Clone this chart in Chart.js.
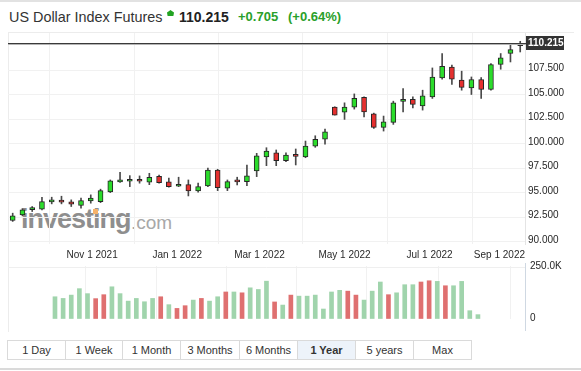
<!DOCTYPE html>
<html><head><meta charset="utf-8">
<script src="https://cdn.jsdelivr.net/npm/chart.js@4.4.0/dist/chart.umd.min.js"></script>
<style>
html,body{margin:0;padding:0;background:#fff;width:581px;height:371px;overflow:hidden;font-family:"Liberation Sans",Arial,sans-serif;color:#333;}
.abs{position:absolute;white-space:nowrap;}
#topline{left:0;top:0;width:581px;height:2px;background:#e2e2e2;}
#bottomline{left:0;top:368px;width:581px;height:2px;background:#dadada;}
#frame{left:8px;top:32px;width:565px;height:299px;border-left:1px solid #ececec;border-top:1px solid #ececec;}
#wm1{left:21px;top:206px;font-size:27px;font-weight:bold;letter-spacing:-1px;color:#8e8e8e;line-height:27px;}
#wm2{left:131px;top:213px;font-size:19px;color:#a8a8a8;line-height:19px;}
#wmdot{left:93px;top:209px;width:5px;height:5px;background:#f5b26a;}
#volaxis{left:525px;top:263px;width:1px;height:68px;background:#cfd8e2;}
.btns{left:7px;top:340px;display:flex;}
.btn{height:18px;line-height:18px;border:1px solid #dadada;border-left:none;text-align:center;font-size:11px;color:#333;background:#fff;}
.btn:first-child{border-left:1px solid #dadada;}
.btn.on{background:#edf3fa;font-weight:bold;}
</style></head>
<body>
<div id="topline" class="abs"></div>
<div class="abs" style="left:9px;top:9px;font-size:14.4px;line-height:16px;color:#333;">US Dollar Index Futures</div>
<svg class="abs" style="left:166px;top:9px" width="9" height="9"><polygon points="4.5,1 8,3.6 7.4,7 1.6,7 1,3.6" fill="#22a322"/></svg>
<div class="abs" style="left:179px;top:9px;font-size:14px;line-height:16px;font-weight:bold;color:#222;">110.215</div>
<div class="abs" style="left:238px;top:9px;font-size:13px;line-height:16px;font-weight:bold;color:#2a9f2a;">+0.705</div>
<div class="abs" style="left:288px;top:9px;font-size:13px;line-height:16px;font-weight:bold;color:#2a9f2a;">(+0.64%)</div>
<div id="frame" class="abs"></div>
<div id="wm1" class="abs">investing</div>
<div id="wm2" class="abs">.com</div>
<div id="wmdot" class="abs"></div>
<div class="abs" style="left:8px;top:33px;"><canvas id="price" width="573" height="233"></canvas></div>
<div class="abs" style="left:8px;top:256px;"><canvas id="vol" width="573" height="75"></canvas></div>
<div id="volaxis" class="abs"></div>
<div class="abs btns">
 <div class="btn" style="width:57px">1 Day</div>
 <div class="btn" style="width:56px">1 Week</div>
 <div class="btn" style="width:57px">1 Month</div>
 <div class="btn" style="width:58px">3 Months</div>
 <div class="btn" style="width:57px">6 Months</div>
 <div class="btn on" style="width:57px">1 Year</div>
 <div class="btn" style="width:57px">5 years</div>
 <div class="btn" style="width:57px">Max</div>
</div>
<div id="bottomline" class="abs"></div>
<script>
const weeks = ["2021-09-05","2021-09-12","2021-09-19","2021-09-26","2021-10-03","2021-10-10","2021-10-17","2021-10-24","2021-10-31",
"2021-11-07","2021-11-14","2021-11-21","2021-11-28","2021-12-05","2021-12-12","2021-12-19","2021-12-26",
"2022-01-02","2022-01-09","2022-01-16","2022-01-23","2022-01-30","2022-02-06","2022-02-13","2022-02-20","2022-02-27",
"2022-03-06","2022-03-13","2022-03-20","2022-03-27","2022-04-03","2022-04-10","2022-04-17","2022-04-24",
"2022-05-01","2022-05-08","2022-05-15","2022-05-22","2022-05-29","2022-06-05","2022-06-12","2022-06-19","2022-06-26",
"2022-07-03","2022-07-10","2022-07-17","2022-07-24","2022-07-31","2022-08-07","2022-08-14","2022-08-21","2022-08-28","2022-09-04"];
const open  = [92.14,92.72,93.26,93.30,94.04,94.22,94.04,93.67,94.15,94.07,95.06,96.08,96.15,96.20,96.05,96.66,96.08,95.64,95.80,95.16,95.67,97.30,95.44,96.23,96.11,97.20,98.62,99.06,98.25,98.83,98.62,99.74,100.45,103.71,103.20,103.71,104.70,103.03,101.65,102.15,104.29,104.50,103.84,104.76,106.69,107.81,106.46,105.68,106.53,105.51,108.06,109.18,109.99];
const high  = [92.89,93.36,93.57,94.52,94.52,94.62,94.25,94.42,94.76,95.34,96.28,97.05,96.72,96.69,96.96,96.79,96.46,96.56,96.28,95.95,97.50,97.37,96.28,96.56,97.81,99.00,99.57,99.34,99.06,99.44,100.25,100.79,101.47,103.75,104.15,105.06,104.76,103.10,102.80,104.32,105.61,104.76,105.44,107.71,109.18,107.99,107.38,106.79,106.73,108.16,109.18,110.02,110.43];
const low   = [92.05,92.62,93.06,93.23,93.84,93.84,93.57,93.40,93.91,93.97,94.99,96.03,95.60,95.95,95.80,95.95,95.54,95.60,94.65,95.03,95.60,95.19,95.19,95.77,95.70,96.62,97.74,97.74,98.15,97.81,98.55,99.61,99.92,102.90,102.46,103.51,102.72,101.54,101.27,101.95,103.23,103.64,103.41,104.60,106.56,106.02,105.44,105.00,104.60,105.44,107.58,108.32,109.34];
const close = [92.62,93.23,93.36,94.07,94.18,94.01,93.81,94.18,94.42,95.19,96.18,96.20,96.25,96.15,96.56,96.01,95.60,95.69,95.16,95.60,97.30,95.50,96.11,96.08,96.69,98.73,99.23,98.25,98.83,98.69,99.74,100.42,101.20,102.90,103.71,104.60,103.23,101.65,102.22,104.15,104.50,103.99,104.86,106.79,107.88,106.56,105.72,106.53,105.51,108.06,108.73,109.58,110.215];
const volume = [107000,99000,115000,146000,122000,98000,117000,155000,122000,86000,99000,83000,99000,107000,69000,51000,64000,91000,99000,86000,107000,130000,130000,126000,150000,142000,182000,82000,67000,115000,110000,110000,115000,48000,130000,138000,134000,115000,91000,134000,178000,117000,126000,165000,165000,178000,184000,181000,160000,160000,181000,40000,21000];
const monthTickDates = ["2021-11-01","2022-01-01","2022-03-01","2022-05-01","2022-07-01","2022-09-01"];
const monthTickLabels = ["Nov 1 2021","Jan 1 2022","Mar 1 2022","May 1 2022","Jul 1 2022","Sep 1 2022"];
const priceTicks = [90,92.5,95,97.5,100,102.5,105,107.5];
const volumeTicks = [0,250000];

const FONT = '"Liberation Sans", Arial, sans-serif';
const t0 = Date.parse(weeks[0]);
const monthPos = monthTickDates.map(d => (Date.parse(d) - t0) / (7*864e5));
const idx = weeks.map((_, i) => i);
const up = close.map((c, i) => c >= open[i]);
const volUp = close.map((c, i) => i === 0 ? c >= open[i] : c >= close[i-1]);
const XMIN = -0.48, XMAX = 52.49;
const noPad = s => { s.paddingTop = 0; s.paddingBottom = 0; s.paddingLeft = 0; s.paddingRight = 0; };

const xLabels = {
  id: 'xLabels',
  afterDraw(chart) {
    const {ctx, chartArea: a, scales: {x}} = chart;
    ctx.save();
    ctx.font = '10px ' + FONT; ctx.fillStyle = '#2a2a2a'; ctx.textBaseline = 'middle'; ctx.textAlign = 'left';
    monthPos.forEach((p, i) => {
      const t = monthTickLabels[i]; const w = ctx.measureText(t).width;
      let l = x.getPixelForValue(p) - w / 2;
      if (l + w > a.right) l = a.right - w;
      ctx.fillText(t, l, a.bottom + 11.5);
    });
    ctx.restore();
  }
};
const priceLine = {
  id: 'priceLine',
  afterDatasetsDraw(chart) {
    const {ctx, chartArea: a, scales: {y}} = chart;
    const v = close[close.length - 1];
    const py = Math.round(y.getPixelForValue(v));
    ctx.save();
    ctx.fillStyle = '#3a3a3a'; ctx.fillRect(0, py, a.right + 1, 1);
    ctx.fillStyle = '#b4b4b4'; ctx.fillRect(0, py + 1, a.right + 1, 1);
    ctx.fillStyle = '#333'; ctx.fillRect(a.right + 1, py - 7, 38, 14);
    ctx.fillStyle = '#fff'; ctx.font = 'bold 10px ' + FONT; ctx.textBaseline = 'middle'; ctx.textAlign = 'left';
    ctx.fillText(v.toFixed(3), a.right + 3, py + 0.5);
    ctx.restore();
  }
};

new Chart(document.getElementById('price'), {
  type: 'bar',
  data: {
    datasets: [
      { label: 'wick', data: idx.map(i => ({x: i, y: [low[i], high[i]]})), backgroundColor: '#4a4a4a',
        barThickness: 1, grouped: false, order: 2 },
      { label: 'body', data: idx.map(i => ({x: i, y: [open[i], close[i]]})),
        backgroundColor: idx.map(i => up[i] ? '#2bdc2b' : '#e5302f'), borderColor: '#262626', borderWidth: 1,
        borderSkipped: false, barThickness: 5, minBarLength: 2, grouped: false, order: 1 }
    ]
  },
  options: {
    responsive: false, animation: false, devicePixelRatio: 1,
    layout: { padding: 0 },
    plugins: { legend: { display: false }, tooltip: { enabled: false } },
    scales: {
      x: { type: 'linear', min: XMIN, max: XMAX, offset: false,
        afterBuildTicks: s => { s.ticks = monthPos.map(v => ({value: v})); },
        afterFit: s => { s.height = 22; noPad(s); },
        ticks: { display: false },
        grid: { color: '#f1f1f1', drawTicks: false }, border: { display: false } },
      y: { type: 'linear', position: 'right', min: 89.745, max: 111.276,
        afterBuildTicks: s => { s.ticks = priceTicks.map(v => ({value: v})); },
        afterFit: s => { s.width = 56; noPad(s); },
        ticks: { font: { size: 10, family: FONT }, color: '#262626', padding: 3, labelOffset: -1.5,
          callback: v => Number(v).toFixed(3) },
        grid: { color: '#f1f1f1', drawTicks: false }, border: { display: true, color: '#e4e4e4' } }
    }
  },
  plugins: [xLabels, priceLine]
});

new Chart(document.getElementById('vol'), {
  type: 'bar',
  data: {
    datasets: [
      { label: 'volume', data: idx.map(i => ({x: i, y: volume[i]})),
        backgroundColor: idx.map(i => volUp[i] ? 'rgba(150,207,163,0.9)' : 'rgba(221,104,104,0.95)'),
        borderWidth: 0, barThickness: 4, grouped: false }
    ]
  },
  options: {
    responsive: false, animation: false, devicePixelRatio: 1,
    layout: { padding: { top: 10, left: 0, right: 0, bottom: 0 } },
    plugins: { legend: { display: false }, tooltip: { enabled: false } },
    scales: {
      x: { type: 'linear', min: XMIN, max: XMAX,
        afterBuildTicks: s => { s.ticks = monthPos.map(v => ({value: v})); },
        afterFit: s => { s.height = 12; noPad(s); },
        ticks: { display: false },
        grid: { color: '#f1f1f1', drawTicks: false }, border: { display: false } },
      y: { type: 'linear', position: 'right', min: 0, max: 255000,
        afterBuildTicks: s => { s.ticks = volumeTicks.map(v => ({value: v})); },
        afterFit: s => { s.width = 56; noPad(s); },
        ticks: { font: { size: 10, family: FONT }, color: '#262626', padding: 5, labelOffset: -1,
          callback: v => v === 0 ? '0' : (v / 1000).toFixed(1) + 'K' },
        grid: { color: c => c.tick && c.tick.value === 0 ? 'rgba(0,0,0,0)' : '#efefef', drawTicks: false },
        border: { display: false } }
    }
  }
});
</script>
</body></html>
